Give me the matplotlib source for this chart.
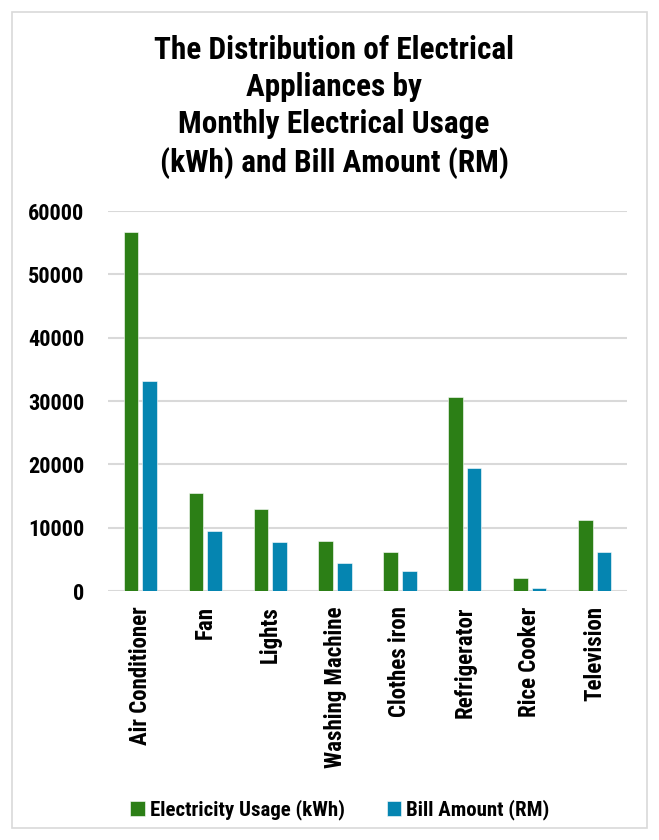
import matplotlib
matplotlib.use("Agg")
import matplotlib.pyplot as plt
from matplotlib.patches import Rectangle
import numpy as np

categories = ["Air Conditioner", "Fan", "Lights", "Washing Machine",
              "Clothes iron", "Refrigerator", "Rice Cooker", "Television"]
usage_kwh = [56700, 15400, 12900, 7950, 6150, 30600, 2100, 11150]
bill_rm = [33200, 9400, 7750, 4480, 3150, 19400, 530, 6200]
yticks = [0, 10000, 20000, 30000, 40000, 50000, 60000]

plt.rcParams['font.family'] = ['Roboto Condensed', 'DejaVu Sans']

W, H = 659, 840
fig = plt.figure(figsize=(W/100, H/100), dpi=100)
fig.patch.set_facecolor("white")

# outer frame
fig.patches.append(Rectangle((12/W, 12/H), (W-24)/W, (H-24)/H, transform=fig.transFigure,
                             fill=False, edgecolor="#d9d9d9", linewidth=1.2))

ax = fig.add_axes([108/W, 1-591/H, (627-108)/W, (591-211)/H])
x = np.arange(len(categories))
w = 0.226
off = 0.1435
green = "#2C7F16"
blue = "#0585B1"
b1 = ax.bar(x - off, usage_kwh, w, color=green, edgecolor="white", linewidth=0.4,
            label="Electricity Usage (kWh)", zorder=3)
b2 = ax.bar(x + off, bill_rm, w, color=blue, edgecolor="white", linewidth=0.4,
            label="Bill Amount (RM)", zorder=3)

ax.set_xlim(-0.5, len(categories) - 0.5)
ax.set_ylim(0, 60000)
ax.set_yticks(yticks)
ax.set_yticklabels([str(v) for v in yticks], fontsize=16, fontweight="bold")
ax.set_xticks(x)
ax.set_xticklabels(categories, rotation=90, fontsize=16.5, fontweight="bold")
ax.tick_params(axis="both", length=0)
ax.tick_params(axis="x", pad=11)
ax.tick_params(axis="y", pad=17)
for s in ax.spines.values():
    s.set_visible(False)
ax.yaxis.grid(True, color="#d9d9d9", linewidth=1.5, zorder=0)
ax.set_axisbelow(True)

fig.text(334/W, 1-107/H,
         "The Distribution of Electrical\nAppliances by\nMonthly Electrical Usage\n(kWh) and Bill Amount (RM)",
         ha="center", va="center", fontsize=22.5, fontweight="bold", linespacing=1.3)

leg = fig.legend(handles=[b1, b2], loc="center", bbox_to_anchor=(340/W, 1-810/H),
                 ncol=2, frameon=False, prop={"weight": "bold", "size": 15},
                 handlelength=0.7, handleheight=0.7, handletextpad=0.25, columnspacing=2.0)

fig.savefig("out.png", dpi=100, facecolor="white")
